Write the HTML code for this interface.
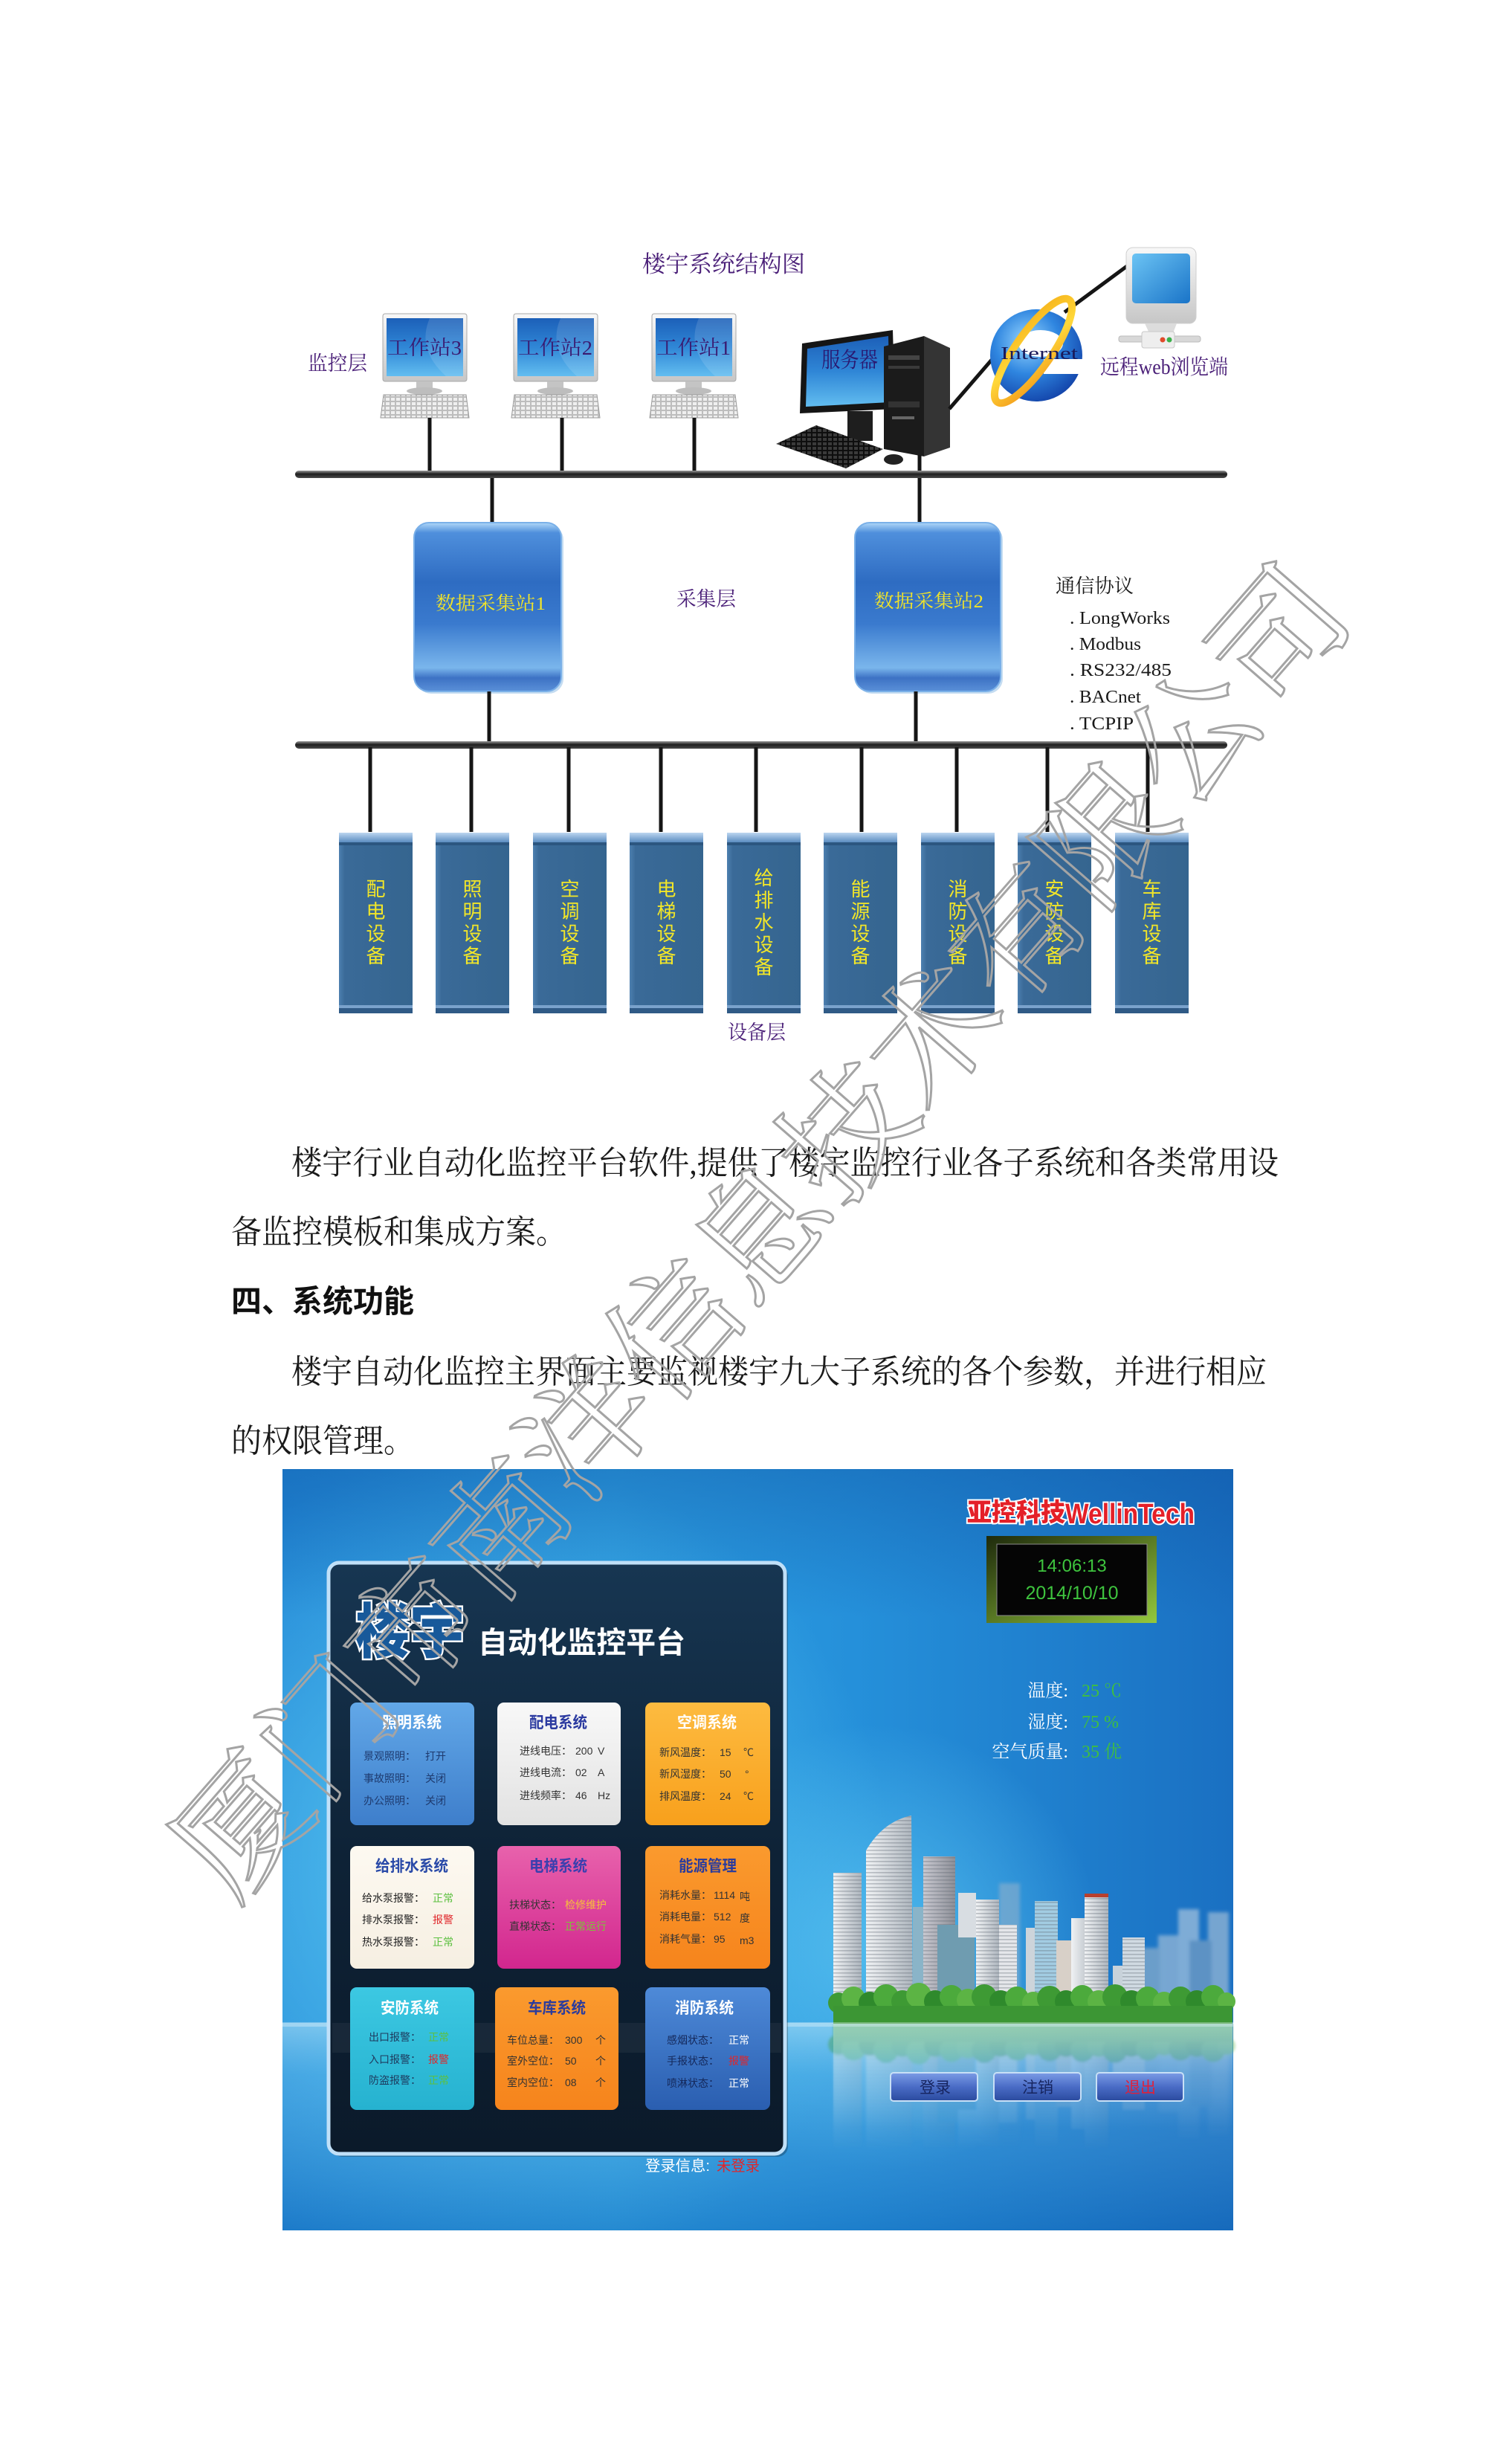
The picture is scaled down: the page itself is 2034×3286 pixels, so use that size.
<!DOCTYPE html>
<html><head><meta charset="utf-8"><style>
html,body{margin:0;padding:0;background:#fff;}
svg{display:block;}
.sf{font-family:"Liberation Serif","Noto Serif CJK SC",serif}
.ss{font-family:"Liberation Sans","Noto Sans CJK SC",sans-serif}
.pu{fill:#4a1f78}
</style></head><body>
<svg width="2034" height="3286" viewBox="0 0 2034 3286" xmlns="http://www.w3.org/2000/svg">
<defs>
<linearGradient id="scr" x1="0" y1="0" x2="0" y2="1"><stop offset="0" stop-color="#1c5fb8"/><stop offset=".5" stop-color="#2f86d6"/><stop offset="1" stop-color="#62bdf0"/></linearGradient>
<linearGradient id="scr2" x1="0" y1="0" x2="1" y2="1"><stop offset="0" stop-color="#6cc4f4"/><stop offset="1" stop-color="#1a74c8"/></linearGradient>
<linearGradient id="bez" x1="0" y1="0" x2="0" y2="1"><stop offset="0" stop-color="#f8f8f8"/><stop offset="1" stop-color="#c6c6c6"/></linearGradient>
<pattern id="keys" width="7" height="6" patternUnits="userSpaceOnUse"><rect width="7" height="6" fill="#bdbdbd"/><rect x="1" y="1" width="5" height="4" fill="#efefef"/></pattern>
<pattern id="keysd" width="7" height="6" patternUnits="userSpaceOnUse"><rect width="7" height="6" fill="#0e0e0e"/><rect x="1" y="1" width="5" height="4" fill="#3a3a3a"/></pattern>
<linearGradient id="bus" x1="0" y1="0" x2="0" y2="1"><stop offset="0" stop-color="#9a9a9a"/><stop offset=".45" stop-color="#1e1e1e"/><stop offset="1" stop-color="#4a4a4a"/></linearGradient>
<linearGradient id="ds" x1="0" y1="0" x2="0" y2="1">
<stop offset="0" stop-color="#b0d8f8"/><stop offset=".06" stop-color="#4f8fdc"/><stop offset=".35" stop-color="#2e6cc2"/><stop offset=".6" stop-color="#3a7ace"/><stop offset=".86" stop-color="#7ab6ec"/><stop offset=".92" stop-color="#3d72c4"/><stop offset="1" stop-color="#5a90d8"/></linearGradient>
<linearGradient id="devtop" x1="0" y1="0" x2="0" y2="1"><stop offset="0" stop-color="#bcd6f0"/><stop offset="1" stop-color="#5a8cc0"/></linearGradient>
<linearGradient id="dev" x1="0" y1="0" x2="1" y2="0"><stop offset="0" stop-color="#4d80b0"/><stop offset=".08" stop-color="#3a6a98"/><stop offset="1" stop-color="#35658f"/></linearGradient>
<radialGradient id="ieg" cx=".4" cy=".35" r=".7"><stop offset="0" stop-color="#9ad8ff"/><stop offset=".5" stop-color="#2f86e0"/><stop offset="1" stop-color="#1242a8"/></radialGradient>
<linearGradient id="ring" x1="0" y1="1" x2="1" y2="0"><stop offset="0" stop-color="#f39a1a"/><stop offset=".5" stop-color="#ffd83a"/><stop offset="1" stop-color="#f6b21a"/></linearGradient>
<linearGradient id="bgH" x1="0" y1="0" x2="1" y2="0"><stop offset="0" stop-color="#2288d6"/><stop offset=".35" stop-color="#2e9fe2"/><stop offset=".6" stop-color="#2590da"/><stop offset="1" stop-color="#1a70c2"/></linearGradient>
<radialGradient id="glow" cx="640" cy="2520" r="560" gradientUnits="userSpaceOnUse"><stop offset="0" stop-color="#5ccaf4" stop-opacity=".9"/><stop offset="1" stop-color="#5ccaf4" stop-opacity="0"/></radialGradient>
<radialGradient id="glow2" cx="1180" cy="2620" r="300" gradientUnits="userSpaceOnUse"><stop offset="0" stop-color="#5cc6f2" stop-opacity=".8"/><stop offset="1" stop-color="#5cc6f2" stop-opacity="0"/></radialGradient>
<linearGradient id="topshade" x1="0" y1="0" x2="0" y2="1"><stop offset="0" stop-color="#0a4a9a" stop-opacity=".35"/><stop offset="1" stop-color="#0a4a9a" stop-opacity="0"/></linearGradient>
<linearGradient id="water" x1="0" y1="0" x2="0" y2="1"><stop offset="0" stop-color="#cdeefc" stop-opacity=".45"/><stop offset=".25" stop-color="#7cc6ee" stop-opacity=".25"/><stop offset="1" stop-color="#0f5eb0" stop-opacity=".35"/></linearGradient>
<linearGradient id="panel" x1="0" y1="0" x2="0" y2="1"><stop offset="0" stop-color="#173652"/><stop offset=".5" stop-color="#0e2236"/><stop offset="1" stop-color="#0b1a2a"/></linearGradient>
<linearGradient id="cBlue" x1="0" y1="0" x2="0" y2="1"><stop offset="0" stop-color="#62a8e8"/><stop offset="1" stop-color="#3e7ecb"/></linearGradient>
<linearGradient id="cWhite" x1="0" y1="0" x2="0" y2="1"><stop offset="0" stop-color="#f8f8f8"/><stop offset="1" stop-color="#e2e2e2"/></linearGradient>
<linearGradient id="cYel" x1="0" y1="0" x2="0" y2="1"><stop offset="0" stop-color="#fdbb40"/><stop offset="1" stop-color="#f8a01c"/></linearGradient>
<linearGradient id="cCream" x1="0" y1="0" x2="0" y2="1"><stop offset="0" stop-color="#fdf9f1"/><stop offset="1" stop-color="#f6efe2"/></linearGradient>
<linearGradient id="cPink" x1="0" y1="0" x2="0" y2="1"><stop offset="0" stop-color="#e862ac"/><stop offset="1" stop-color="#d2268e"/></linearGradient>
<linearGradient id="cOr" x1="0" y1="0" x2="0" y2="1"><stop offset="0" stop-color="#fa9a2e"/><stop offset="1" stop-color="#f6841c"/></linearGradient>
<linearGradient id="cCyan" x1="0" y1="0" x2="0" y2="1"><stop offset="0" stop-color="#3cc8e2"/><stop offset="1" stop-color="#26b2d0"/></linearGradient>
<linearGradient id="cBlue2" x1="0" y1="0" x2="0" y2="1"><stop offset="0" stop-color="#4e8ad8"/><stop offset="1" stop-color="#2a5eb0"/></linearGradient>
<linearGradient id="clk" x1="0" y1="0" x2="1" y2="1"><stop offset="0" stop-color="#1e2a0c"/><stop offset="1" stop-color="#94c83c"/></linearGradient>
<linearGradient id="btn" x1="0" y1="0" x2="0" y2="1"><stop offset="0" stop-color="#7c9ce6"/><stop offset=".5" stop-color="#4a6cc6"/><stop offset="1" stop-color="#2a4a9e"/></linearGradient>
<linearGradient id="bw" x1="0" y1="0" x2="1" y2="0"><stop offset="0" stop-color="#f0f2f4"/><stop offset="1" stop-color="#aeb6be"/></linearGradient>
<linearGradient id="bg2" x1="0" y1="0" x2="1" y2="0"><stop offset="0" stop-color="#c8c8d0"/><stop offset="1" stop-color="#8e9098"/></linearGradient>
<pattern id="win" width="6" height="5" patternUnits="userSpaceOnUse"><rect y="3" width="6" height="1.6" fill="#5a6470" fill-opacity=".35"/></pattern>
<linearGradient id="refl" x1="0" y1="0" x2="0" y2="1"><stop offset="0" stop-color="#6cbc8a" stop-opacity=".8"/><stop offset="1" stop-color="#6cbc8a" stop-opacity="0"/></linearGradient>
<linearGradient id="refl2" x1="0" y1="0" x2="0" y2="1"><stop offset="0" stop-color="#e8f4fa" stop-opacity=".35"/><stop offset="1" stop-color="#e8f4fa" stop-opacity="0"/></linearGradient>
<linearGradient id="fadeG" x1="0" y1="0" x2="0" y2="1"><stop offset="0" stop-color="#fff" stop-opacity=".45"/><stop offset="1" stop-color="#fff" stop-opacity="0"/></linearGradient>
<mask id="fadeM" maskUnits="userSpaceOnUse" x="1100" y="2722" width="600" height="170"><rect x="1100" y="2722" width="600" height="170" fill="url(#fadeG)"/></mask>
<filter id="blur"><feGaussianBlur stdDeviation="2.5"/></filter>
<filter id="blur2"><feGaussianBlur stdDeviation="1.5"/></filter>
</defs>

<!-- ============ DIAGRAM ============ -->
<text class="sf pu" x="864" y="366" font-size="31" textLength="219" lengthAdjust="spacingAndGlyphs">楼宇系统结构图</text>
<text class="sf pu" x="414" y="498" font-size="27" textLength="80" lengthAdjust="spacingAndGlyphs">监控层</text>

<!-- workstations -->
<g>
<rect x="515" y="422" width="113" height="91" rx="3" fill="url(#bez)" stroke="#a8a8a8"/>
<rect x="520" y="428" width="103" height="78" fill="url(#scr)"/>
<path d="M578 428 Q560 470 600 506 L623 506 L623 428Z" fill="#fff" opacity=".12"/>
<rect x="560" y="513" width="22" height="10" fill="#c4c4c4"/>
<ellipse cx="571" cy="526" rx="24" ry="5" fill="#bdbdbd"/>
<polygon points="512,562 631,562 627,531 516,531" fill="url(#keys)" stroke="#9a9a9a"/>
<text class="sf" x="521" y="477" font-size="27" fill="#3a1a70" textLength="100" lengthAdjust="spacingAndGlyphs">工作站3</text>

<rect x="691" y="422" width="113" height="91" rx="3" fill="url(#bez)" stroke="#a8a8a8"/>
<rect x="696" y="428" width="103" height="78" fill="url(#scr)"/>
<path d="M754 428 Q736 470 776 506 L799 506 L799 428Z" fill="#fff" opacity=".12"/>
<rect x="736" y="513" width="22" height="10" fill="#c4c4c4"/>
<ellipse cx="747" cy="526" rx="24" ry="5" fill="#bdbdbd"/>
<polygon points="688,562 807,562 803,531 692,531" fill="url(#keys)" stroke="#9a9a9a"/>
<text class="sf" x="697" y="477" font-size="27" fill="#3a1a70" textLength="100" lengthAdjust="spacingAndGlyphs">工作站2</text>

<rect x="877" y="422" width="113" height="91" rx="3" fill="url(#bez)" stroke="#a8a8a8"/>
<rect x="882" y="428" width="103" height="78" fill="url(#scr)"/>
<path d="M940 428 Q922 470 962 506 L985 506 L985 428Z" fill="#fff" opacity=".12"/>
<rect x="922" y="513" width="22" height="10" fill="#c4c4c4"/>
<ellipse cx="933" cy="526" rx="24" ry="5" fill="#bdbdbd"/>
<polygon points="874,562 993,562 989,531 878,531" fill="url(#keys)" stroke="#9a9a9a"/>
<text class="sf" x="883" y="477" font-size="27" fill="#3a1a70" textLength="100" lengthAdjust="spacingAndGlyphs">工作站1</text>
</g>
<g stroke="#151515" stroke-width="5">
<line x1="578" y1="562" x2="578" y2="640"/>
<line x1="756" y1="562" x2="756" y2="640"/>
<line x1="934" y1="562" x2="934" y2="640"/>
</g>

<!-- server -->
<polygon points="1079,462 1201,444 1204,550 1076,556" fill="#151515"/>
<polygon points="1086,469 1195,452 1197,541 1084,547" fill="url(#scr)"/>
<rect x="1140" y="553" width="34" height="40" fill="#1e1e1e"/>
<polygon points="1189,466 1243,452 1243,614 1189,604" fill="#1b1b1b"/>
<polygon points="1243,452 1278,468 1278,602 1243,614" fill="#343434"/>
<rect x="1195" y="478" width="42" height="6" fill="#444"/>
<rect x="1195" y="492" width="42" height="4" fill="#3a3a3a"/>
<rect x="1195" y="540" width="42" height="8" fill="#333"/>
<rect x="1200" y="560" width="30" height="4" fill="#666"/>
<polygon points="1044,597 1098,572 1188,604 1138,630" fill="url(#keysd)"/>
<ellipse cx="1202" cy="618" rx="13" ry="7" fill="#222"/>
<text class="sf" x="1105" y="494" font-size="29" fill="#2a1870" textLength="76" lengthAdjust="spacingAndGlyphs">服务器</text>
<line x1="1237" y1="612" x2="1237" y2="704" stroke="#151515" stroke-width="5"/>
<line x1="1277" y1="550" x2="1334" y2="484" stroke="#151515" stroke-width="5"/>
<line x1="1432" y1="420" x2="1516" y2="358" stroke="#151515" stroke-width="5"/>

<!-- IE -->
<circle cx="1394" cy="478" r="62" fill="url(#ieg)"/>
<ellipse cx="1400" cy="462" rx="30" ry="18" fill="#fff"/>
<rect x="1404" y="483" width="54" height="20" fill="#fff"/>
<ellipse cx="1390" cy="472" rx="84" ry="24" transform="rotate(-55 1390 472)" fill="none" stroke="url(#ring)" stroke-width="10"/>
<text class="sf" x="1346" y="483" font-size="24" fill="#1a1a5a" textLength="104" lengthAdjust="spacingAndGlyphs">Internet</text>

<!-- remote -->
<rect x="1515" y="333" width="94" height="102" rx="9" fill="url(#bez)" stroke="#cfcfcf"/>
<rect x="1523" y="341" width="78" height="67" rx="5" fill="url(#scr2)"/>
<path d="M1540 435 L1583 435 L1578 448 L1546 448Z" fill="#dcdcdc"/>
<rect x="1505" y="452" width="110" height="8" rx="3" fill="#d8d8d8" stroke="#bbb"/>
<rect x="1536" y="446" width="44" height="22" rx="3" fill="#eee" stroke="#c8c8c8"/>
<circle cx="1564" cy="457" r="3.5" fill="#e04a2a"/><circle cx="1573" cy="457" r="3.5" fill="#3ab04a"/>
<text class="sf pu" x="1480" y="503" font-size="28" textLength="172" lengthAdjust="spacingAndGlyphs">远程web浏览端</text>

<!-- bus 1 -->
<rect x="397" y="633" width="1254" height="10" rx="5" fill="url(#bus)"/>
<line x1="662" y1="643" x2="662" y2="704" stroke="#151515" stroke-width="5"/>

<!-- data stations -->
<rect x="560" y="706" width="198" height="227" rx="20" fill="#9cc4e8" opacity=".6"/>
<rect x="557" y="703" width="198" height="227" rx="20" fill="url(#ds)" stroke="#7ab0e8" stroke-width="2"/>
<text class="sf" x="586" y="820" font-size="25" fill="#f2e428" textLength="148" lengthAdjust="spacingAndGlyphs">数据采集站1</text>
<rect x="1153" y="706" width="196" height="227" rx="20" fill="#9cc4e8" opacity=".6"/>
<rect x="1150" y="703" width="196" height="227" rx="20" fill="url(#ds)" stroke="#7ab0e8" stroke-width="2"/>
<text class="sf" x="1176" y="817" font-size="25" fill="#f2e428" textLength="147" lengthAdjust="spacingAndGlyphs">数据采集站2</text>
<text class="sf pu" x="910" y="815" font-size="27" textLength="80" lengthAdjust="spacingAndGlyphs">采集层</text>

<text class="sf" x="1420" y="797" font-size="26" fill="#1a1a1a" textLength="105" lengthAdjust="spacingAndGlyphs">通信协议</text>
<g class="sf" font-size="24" fill="#1a1a1a">
<text x="1439" y="839" textLength="135" lengthAdjust="spacingAndGlyphs">. LongWorks</text>
<text x="1439" y="874" textLength="96" lengthAdjust="spacingAndGlyphs">. Modbus</text>
<text x="1439" y="909" textLength="137" lengthAdjust="spacingAndGlyphs">. RS232/485</text>
<text x="1439" y="945" textLength="96" lengthAdjust="spacingAndGlyphs">. BACnet</text>
<text x="1439" y="981" textLength="86" lengthAdjust="spacingAndGlyphs">. TCPIP</text>
</g>

<g stroke="#151515" stroke-width="5">
<line x1="658" y1="930" x2="658" y2="1000"/>
<line x1="1232" y1="930" x2="1232" y2="1000"/>
</g>
<!-- bus 2 -->
<rect x="397" y="997" width="1254" height="10" rx="5" fill="url(#bus)"/>
<g stroke="#151515" stroke-width="5">
<line x1="498" y1="1005" x2="498" y2="1119"/>
<line x1="634" y1="1005" x2="634" y2="1119"/>
<line x1="765" y1="1005" x2="765" y2="1119"/>
<line x1="889" y1="1005" x2="889" y2="1119"/>
<line x1="1017" y1="1005" x2="1017" y2="1119"/>
<line x1="1159" y1="1005" x2="1159" y2="1119"/>
<line x1="1287" y1="1005" x2="1287" y2="1119"/>
<line x1="1409" y1="1005" x2="1409" y2="1119"/>
<line x1="1544" y1="1005" x2="1544" y2="1119"/>
</g>

<!-- devices -->
<g id="devs">
<g><rect x="456" y="1120" width="99" height="243" fill="url(#dev)"/><rect x="456" y="1120" width="99" height="13" fill="url(#devtop)"/><rect x="456" y="1133" width="99" height="4" fill="#2c5680"/><rect x="456" y="1352" width="99" height="4" fill="#7aa2cc"/><rect x="456" y="1356" width="99" height="7" fill="#2f5a86"/></g>
<g><rect x="586" y="1120" width="99" height="243" fill="url(#dev)"/><rect x="586" y="1120" width="99" height="13" fill="url(#devtop)"/><rect x="586" y="1133" width="99" height="4" fill="#2c5680"/><rect x="586" y="1352" width="99" height="4" fill="#7aa2cc"/><rect x="586" y="1356" width="99" height="7" fill="#2f5a86"/></g>
<g><rect x="717" y="1120" width="99" height="243" fill="url(#dev)"/><rect x="717" y="1120" width="99" height="13" fill="url(#devtop)"/><rect x="717" y="1133" width="99" height="4" fill="#2c5680"/><rect x="717" y="1352" width="99" height="4" fill="#7aa2cc"/><rect x="717" y="1356" width="99" height="7" fill="#2f5a86"/></g>
<g><rect x="847" y="1120" width="99" height="243" fill="url(#dev)"/><rect x="847" y="1120" width="99" height="13" fill="url(#devtop)"/><rect x="847" y="1133" width="99" height="4" fill="#2c5680"/><rect x="847" y="1352" width="99" height="4" fill="#7aa2cc"/><rect x="847" y="1356" width="99" height="7" fill="#2f5a86"/></g>
<g><rect x="978" y="1120" width="99" height="243" fill="url(#dev)"/><rect x="978" y="1120" width="99" height="13" fill="url(#devtop)"/><rect x="978" y="1133" width="99" height="4" fill="#2c5680"/><rect x="978" y="1352" width="99" height="4" fill="#7aa2cc"/><rect x="978" y="1356" width="99" height="7" fill="#2f5a86"/></g>
<g><rect x="1108" y="1120" width="99" height="243" fill="url(#dev)"/><rect x="1108" y="1120" width="99" height="13" fill="url(#devtop)"/><rect x="1108" y="1133" width="99" height="4" fill="#2c5680"/><rect x="1108" y="1352" width="99" height="4" fill="#7aa2cc"/><rect x="1108" y="1356" width="99" height="7" fill="#2f5a86"/></g>
<g><rect x="1239" y="1120" width="99" height="243" fill="url(#dev)"/><rect x="1239" y="1120" width="99" height="13" fill="url(#devtop)"/><rect x="1239" y="1133" width="99" height="4" fill="#2c5680"/><rect x="1239" y="1352" width="99" height="4" fill="#7aa2cc"/><rect x="1239" y="1356" width="99" height="7" fill="#2f5a86"/></g>
<g><rect x="1369" y="1120" width="99" height="243" fill="url(#dev)"/><rect x="1369" y="1120" width="99" height="13" fill="url(#devtop)"/><rect x="1369" y="1133" width="99" height="4" fill="#2c5680"/><rect x="1369" y="1352" width="99" height="4" fill="#7aa2cc"/><rect x="1369" y="1356" width="99" height="7" fill="#2f5a86"/></g>
<g><rect x="1500" y="1120" width="99" height="243" fill="url(#dev)"/><rect x="1500" y="1120" width="99" height="13" fill="url(#devtop)"/><rect x="1500" y="1133" width="99" height="4" fill="#2c5680"/><rect x="1500" y="1352" width="99" height="4" fill="#7aa2cc"/><rect x="1500" y="1356" width="99" height="7" fill="#2f5a86"/></g>
</g>
<g class="ss" font-size="26" fill="#f2e628" text-anchor="middle">
<text x="505.5" y="1205">配</text><text x="505.5" y="1235">电</text><text x="505.5" y="1265">设</text><text x="505.5" y="1295">备</text>
<text x="635.5" y="1205">照</text><text x="635.5" y="1235">明</text><text x="635.5" y="1265">设</text><text x="635.5" y="1295">备</text>
<text x="766.5" y="1205">空</text><text x="766.5" y="1235">调</text><text x="766.5" y="1265">设</text><text x="766.5" y="1295">备</text>
<text x="896.5" y="1205">电</text><text x="896.5" y="1235">梯</text><text x="896.5" y="1265">设</text><text x="896.5" y="1295">备</text>
<text x="1027.5" y="1190">给</text><text x="1027.5" y="1220">排</text><text x="1027.5" y="1250">水</text><text x="1027.5" y="1280">设</text><text x="1027.5" y="1310">备</text>
<text x="1157.5" y="1205">能</text><text x="1157.5" y="1235">源</text><text x="1157.5" y="1265">设</text><text x="1157.5" y="1295">备</text>
<text x="1288.5" y="1205">消</text><text x="1288.5" y="1235">防</text><text x="1288.5" y="1265">设</text><text x="1288.5" y="1295">备</text>
<text x="1418.5" y="1205">安</text><text x="1418.5" y="1235">防</text><text x="1418.5" y="1265">设</text><text x="1418.5" y="1295">备</text>
<text x="1549.5" y="1205">车</text><text x="1549.5" y="1235">库</text><text x="1549.5" y="1265">设</text><text x="1549.5" y="1295">备</text>
</g>
<text class="sf pu" x="979" y="1398" font-size="27" textLength="78" lengthAdjust="spacingAndGlyphs">设备层</text>

<!-- ============ PARAGRAPHS ============ -->
<g class="sf" font-size="44" fill="#1a1a1a">
<text x="392" y="1579" textLength="1328" lengthAdjust="spacingAndGlyphs">楼宇行业自动化监控平台软件,提供了楼宇监控行业各子系统和各类常用设</text>
<text x="311" y="1672" textLength="451" lengthAdjust="spacingAndGlyphs">备监控模板和集成方案。</text>
<text x="392" y="1860" textLength="1312" lengthAdjust="spacingAndGlyphs">楼宇自动化监控主界面主要监视楼宇九大子系统的各个参数，并进行相应</text>
<text x="311" y="1953" textLength="246" lengthAdjust="spacingAndGlyphs">的权限管理。</text>
</g>
<text class="ss" x="311" y="1765" font-size="42" font-weight="700" fill="#111" textLength="246" lengthAdjust="spacingAndGlyphs">四、系统功能</text>

<!-- ============ SCREENSHOT ============ -->
<g>
<rect x="380" y="1976" width="1279" height="1024" fill="url(#bgH)"/>
<rect x="380" y="1976" width="1279" height="1024" fill="url(#glow)"/>
<rect x="380" y="1976" width="1279" height="1024" fill="url(#glow2)"/>
<rect x="380" y="1976" width="1279" height="200" fill="url(#topshade)"/>
<rect x="380" y="2721" width="1279" height="279" fill="url(#water)"/>

<!-- city -->
<g id="bld">
<g filter="url(#blur)" opacity=".6">
<rect x="1344" y="2533" width="28" height="170" fill="#8fb0cc"/>
<rect x="1558" y="2603" width="27" height="100" fill="#b4c8da"/>
<rect x="1585" y="2568" width="28" height="135" fill="#c0d2e2"/>
<rect x="1625" y="2572" width="28" height="130" fill="#b4c8da"/>
<rect x="1600" y="2610" width="30" height="90" fill="#8aa8c4"/>
<rect x="1530" y="2620" width="30" height="80" fill="#a0b8cc"/>
</g>
<rect x="1121" y="2519" width="38" height="184" fill="url(#bw)"/><rect x="1121" y="2519" width="38" height="184" fill="url(#win)"/>
<path d="M1165 2489 Q1188 2450 1226 2442 L1228 2703 L1165 2703 Z" fill="url(#bw)"/>
<path d="M1165 2489 Q1188 2450 1226 2442 L1228 2703 L1165 2703 Z" fill="url(#win)"/>
<rect x="1228" y="2565" width="16" height="140" fill="#8ab4c8"/>
<rect x="1242" y="2497" width="43" height="206" fill="url(#bg2)"/><rect x="1242" y="2497" width="43" height="206" fill="url(#win)"/>
<rect x="1261" y="2589" width="50" height="114" fill="#6f9cb0"/>
<rect x="1289" y="2546" width="24" height="60" fill="#d8dde2"/>
<rect x="1313" y="2555" width="31" height="148" fill="url(#bw)"/><rect x="1313" y="2555" width="31" height="148" fill="url(#win)"/>
<rect x="1344" y="2589" width="24" height="114" fill="#e4e6ea"/><rect x="1344" y="2589" width="24" height="114" fill="url(#win)"/>
<rect x="1380" y="2593" width="14" height="110" fill="#cdd4da"/>
<rect x="1392" y="2557" width="31" height="146" fill="#a2cce2"/><rect x="1392" y="2557" width="31" height="146" fill="url(#win)"/>
<rect x="1421" y="2610" width="20" height="93" fill="#d8d0c8"/>
<rect x="1441" y="2580" width="30" height="123" fill="url(#bw)"/>
<rect x="1459" y="2550" width="32" height="153" fill="url(#bw)"/><rect x="1459" y="2550" width="32" height="153" fill="url(#win)"/>
<rect x="1459" y="2547" width="32" height="5" fill="#b8402e"/>
<rect x="1497" y="2644" width="13" height="60" fill="#c8d2da"/>
<rect x="1510" y="2606" width="30" height="97" fill="#d0dae2"/><rect x="1510" y="2606" width="30" height="97" fill="url(#win)"/>
<g>
<circle cx="1128" cy="2694" r="14" fill="#3e9a34"/><circle cx="1148" cy="2688" r="16" fill="#5cb444"/><circle cx="1170" cy="2694" r="15" fill="#2f8a2c"/>
<circle cx="1192" cy="2686" r="17" fill="#4caa3c"/><circle cx="1214" cy="2692" r="15" fill="#3e9a34"/><circle cx="1236" cy="2684" r="17" fill="#5cb444"/>
<circle cx="1258" cy="2692" r="15" fill="#2f8a2c"/><circle cx="1280" cy="2686" r="16" fill="#4caa3c"/><circle cx="1302" cy="2690" r="15" fill="#5cb444"/>
<circle cx="1324" cy="2686" r="17" fill="#3e9a34"/><circle cx="1346" cy="2692" r="15" fill="#2f8a2c"/><circle cx="1368" cy="2688" r="16" fill="#4caa3c"/>
<circle cx="1390" cy="2694" r="15" fill="#5cb444"/><circle cx="1412" cy="2688" r="17" fill="#3e9a34"/><circle cx="1434" cy="2692" r="15" fill="#2f8a2c"/>
<circle cx="1456" cy="2686" r="16" fill="#4caa3c"/><circle cx="1478" cy="2692" r="15" fill="#5cb444"/><circle cx="1500" cy="2686" r="17" fill="#3e9a34"/>
<circle cx="1522" cy="2692" r="15" fill="#2f8a2c"/><circle cx="1544" cy="2688" r="16" fill="#4caa3c"/><circle cx="1566" cy="2694" r="15" fill="#5cb444"/>
<circle cx="1588" cy="2688" r="16" fill="#3e9a34"/><circle cx="1610" cy="2692" r="15" fill="#2f8a2c"/><circle cx="1632" cy="2686" r="16" fill="#4caa3c"/>
<circle cx="1650" cy="2692" r="12" fill="#5cb444"/>
<rect x="1121" y="2698" width="537" height="24" fill="#3c9634"/>
</g>
</g>
<g mask="url(#fadeM)" filter="url(#blur2)">
<use href="#bld" transform="translate(0,5444) scale(1,-1)"/>
</g>
<rect x="1121" y="2722" width="537" height="50" fill="url(#refl)"/>
<rect x="1121" y="2722" width="537" height="140" fill="url(#refl2)"/>
<rect x="380" y="2720" width="1279" height="6" fill="#e8f6fc" opacity=".35"/>

<!-- panel -->
<rect x="446" y="2106" width="614" height="795" rx="14" fill="#000" opacity=".25"/>
<rect x="442" y="2102" width="614" height="795" rx="14" fill="url(#panel)" stroke="#c0e0f8" stroke-width="5"/>
<rect x="447" y="2721" width="604" height="40" fill="#fff" opacity=".05"/>

<text class="ss" x="478" y="2223" font-size="80" font-weight="900" fill="#18599a" stroke="#ffffff" stroke-width="5" paint-order="stroke" textLength="147" lengthAdjust="spacingAndGlyphs">楼宇</text>
<text class="ss" x="643" y="2223" font-size="40" font-weight="700" fill="#ffffff" textLength="279" lengthAdjust="spacingAndGlyphs">自动化监控平台</text>

<!-- cards row1 -->
<rect x="471" y="2290" width="167" height="165" rx="9" fill="url(#cBlue)"/>
<rect x="669" y="2290" width="166" height="165" rx="9" fill="url(#cWhite)"/>
<rect x="868" y="2290" width="168" height="165" rx="9" fill="url(#cYel)"/>
<!-- row2 -->
<rect x="471" y="2483" width="167" height="165" rx="9" fill="url(#cCream)"/>
<rect x="669" y="2483" width="166" height="165" rx="9" fill="url(#cPink)"/>
<rect x="868" y="2483" width="168" height="165" rx="9" fill="url(#cOr)"/>
<!-- row3 -->
<rect x="471" y="2673" width="167" height="165" rx="9" fill="url(#cCyan)"/>
<rect x="666" y="2673" width="166" height="165" rx="9" fill="url(#cOr)"/>
<rect x="868" y="2673" width="168" height="165" rx="9" fill="url(#cBlue2)"/>

<g class="ss" font-size="21" font-weight="700">
<text x="514" y="2324" fill="#ffffff" textLength="80" lengthAdjust="spacingAndGlyphs">照明系统</text>
<text x="712" y="2324" fill="#2b3aa0" textLength="78" lengthAdjust="spacingAndGlyphs">配电系统</text>
<text x="911" y="2324" fill="#ffffff" textLength="80" lengthAdjust="spacingAndGlyphs">空调系统</text>
<text x="505" y="2517" fill="#2a4aa8" textLength="98" lengthAdjust="spacingAndGlyphs">给排水系统</text>
<text x="712" y="2517" fill="#3b3fae" textLength="78" lengthAdjust="spacingAndGlyphs">电梯系统</text>
<text x="913" y="2517" fill="#2c3c9c" textLength="78" lengthAdjust="spacingAndGlyphs">能源管理</text>
<text x="512" y="2708" fill="#ffffff" textLength="78" lengthAdjust="spacingAndGlyphs">安防系统</text>
<text x="710" y="2708" fill="#2c3c9c" textLength="78" lengthAdjust="spacingAndGlyphs">车库系统</text>
<text x="908" y="2708" fill="#ffffff" textLength="79" lengthAdjust="spacingAndGlyphs">消防系统</text>
</g>

<g class="ss" font-size="14">
<g fill="#1e3a6e">
<text x="489" y="2367">景观照明：</text><text x="572" y="2367">打开</text>
<text x="489" y="2397">事故照明：</text><text x="572" y="2397">关闭</text>
<text x="489" y="2427">办公照明：</text><text x="572" y="2427">关闭</text>
</g>
<g fill="#333">
<text x="699" y="2360">进线电压：</text><text x="774" y="2360">200</text><text x="804" y="2360">V</text>
<text x="699" y="2389">进线电流：</text><text x="774" y="2389">02</text><text x="804" y="2389">A</text>
<text x="699" y="2420">进线频率：</text><text x="774" y="2420">46</text><text x="804" y="2420">Hz</text>
</g>
<g fill="#333">
<text x="887" y="2362">新风温度：</text><text x="968" y="2362">15</text><text x="1000" y="2362">℃</text>
<text x="887" y="2391">新风湿度：</text><text x="968" y="2391">50</text><text x="1002" y="2391">°</text>
<text x="887" y="2421">排风温度：</text><text x="968" y="2421">24</text><text x="1000" y="2421">℃</text>
</g>
<g fill="#222">
<text x="487" y="2558">给水泵报警：</text><text x="582" y="2558" fill="#5cc040">正常</text>
<text x="487" y="2587">排水泵报警：</text><text x="582" y="2587" fill="#e0262a">报警</text>
<text x="487" y="2617">热水泵报警：</text><text x="582" y="2617" fill="#5cc040">正常</text>
</g>
<g fill="#333">
<text x="685" y="2567">扶梯状态：</text><text x="760" y="2567" fill="#f6c13a">检修维护</text>
<text x="685" y="2596">直梯状态：</text><text x="760" y="2596" fill="#7cc43a">正常运行</text>
</g>
<g fill="#333">
<text x="887" y="2554">消耗水量：</text><text x="960" y="2554">1114</text><text x="995" y="2556">吨</text>
<text x="887" y="2583">消耗电量：</text><text x="960" y="2583">512</text><text x="995" y="2585">度</text>
<text x="887" y="2613">消耗气量：</text><text x="960" y="2613">95</text><text x="995" y="2615">m3</text>
</g>
<g fill="#1e3a5e">
<text x="496" y="2745">出口报警：</text><text x="576" y="2745" fill="#5cc040">正常</text>
<text x="496" y="2775">入口报警：</text><text x="576" y="2775" fill="#e0262a">报警</text>
<text x="496" y="2803">防盗报警：</text><text x="576" y="2803" fill="#5cc040">正常</text>
</g>
<g fill="#333">
<text x="682" y="2749">车位总量：</text><text x="760" y="2749">300</text><text x="801" y="2749">个</text>
<text x="682" y="2777">室外空位：</text><text x="760" y="2777">50</text><text x="801" y="2777">个</text>
<text x="682" y="2806">室内空位：</text><text x="760" y="2806">08</text><text x="801" y="2806">个</text>
</g>
<g fill="#14285a">
<text x="897" y="2749">感烟状态：</text><text x="980" y="2749" fill="#ffffff">正常</text>
<text x="897" y="2777">手报状态：</text><text x="980" y="2777" fill="#e0262a">报警</text>
<text x="897" y="2807">喷淋状态：</text><text x="980" y="2807" fill="#ffffff">正常</text>
</g>
</g>

<text class="ss" x="868" y="2920" font-size="20" fill="#ffffff" textLength="87" lengthAdjust="spacingAndGlyphs">登录信息:</text>
<text class="ss" x="964" y="2920" font-size="20" fill="#e0262a" textLength="58" lengthAdjust="spacingAndGlyphs">未登录</text>

<!-- logo -->
<text class="ss" x="1301" y="2046" font-size="34" font-weight="900" fill="#e42028" stroke="#ffffff" stroke-width="4" paint-order="stroke" textLength="132" lengthAdjust="spacingAndGlyphs">亚控科技</text>
<text class="ss" x="1433" y="2049" font-size="38" font-weight="700" fill="#e42028" stroke="#ffffff" stroke-width="4" paint-order="stroke" textLength="174" lengthAdjust="spacingAndGlyphs">WellinTech</text>

<!-- clock -->
<rect x="1327" y="2066" width="229" height="117" fill="url(#clk)"/>
<rect x="1341" y="2077" width="202" height="96" fill="#050505" stroke="#8a8a8a" stroke-width="1"/>
<text class="ss" x="1442" y="2114" font-size="24" fill="#3ec43e" text-anchor="middle">14:06:13</text>
<text class="ss" x="1442" y="2151" font-size="25" fill="#3ec43e" text-anchor="middle">2014/10/10</text>

<!-- weather -->
<g class="sf" font-size="24">
<text x="1437" y="2282" fill="#ffffff" text-anchor="end">温度:</text>
<text x="1437" y="2324" fill="#ffffff" text-anchor="end">湿度:</text>
<text x="1437" y="2364" fill="#ffffff" text-anchor="end">空气质量:</text>
<text x="1455" y="2282" fill="#3fbf3f">25  ℃</text>
<text x="1455" y="2324" fill="#3fbf3f">75  %</text>
<text x="1455" y="2364" fill="#3fbf3f">35  优</text>
</g>

<!-- buttons -->
<rect x="1198" y="2788" width="117" height="38" rx="4" fill="url(#btn)" stroke="#c8e0f6" stroke-width="2"/>
<rect x="1337" y="2788" width="117" height="38" rx="4" fill="url(#btn)" stroke="#c8e0f6" stroke-width="2"/>
<rect x="1475" y="2788" width="117" height="38" rx="4" fill="url(#btn)" stroke="#c8e0f6" stroke-width="2"/>
<g class="ss" font-size="21" text-anchor="middle">
<text x="1258" y="2815" fill="#16245e">登录</text>
<text x="1396" y="2815" fill="#16245e">注销</text>
<text x="1534" y="2815" fill="#e0203a">退出</text>
</g>
</g>

<!-- ============ WATERMARK ============ -->
<g transform="translate(1022,1655) rotate(-48.9)">
<text class="sf" x="0" y="62" font-size="172" text-anchor="middle" fill="none" stroke="#a4a4a4" stroke-width="3" textLength="2300" lengthAdjust="spacingAndGlyphs">厦门市南洋信息技术有限公司</text>
</g>
</svg>
</body></html>
